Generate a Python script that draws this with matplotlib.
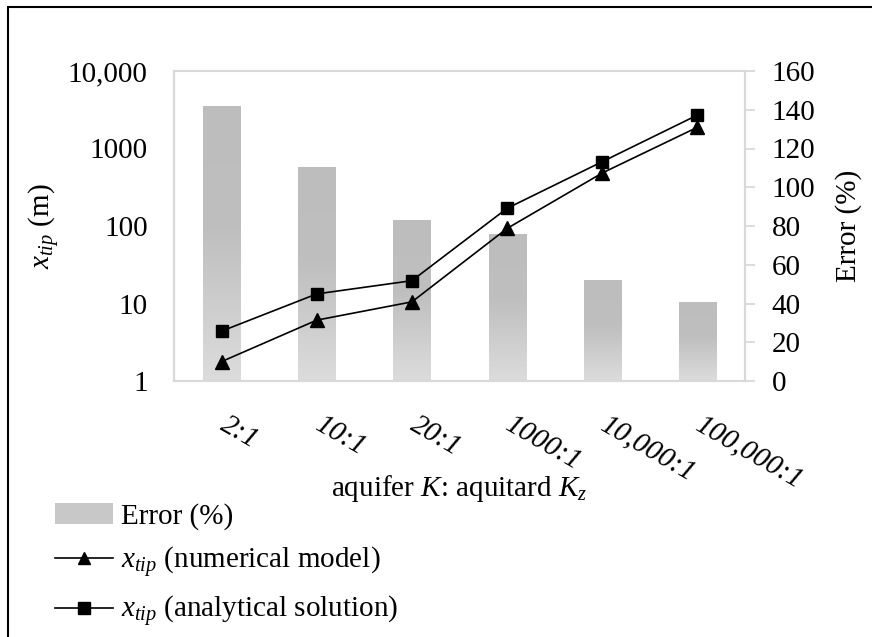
import numpy as np
import matplotlib
matplotlib.use("Agg")
import matplotlib.pyplot as plt
import matplotlib.transforms as mtransforms
from matplotlib.lines import Line2D
from matplotlib.patches import Patch, Rectangle
from matplotlib.colors import LinearSegmentedColormap

plt.rcParams['font.family'] = ['Liberation Serif', 'DejaVu Serif']
plt.rcParams['mathtext.fontset'] = 'custom'
plt.rcParams['mathtext.rm'] = 'Liberation Serif'
plt.rcParams['mathtext.it'] = 'Liberation Serif:italic'
plt.rcParams['mathtext.bf'] = 'Liberation Serif:bold'

# ---- data ----
categories = ["2:1", "10:1", "20:1", "1000:1", "10,000:1", "100,000:1"]
error_pct = [142, 110.5, 83, 76, 52, 41]
xtip_numerical = [1.78, 6.1, 10.5, 93, 483, 1880]
xtip_analytical = [4.4, 13.3, 19.7, 169, 676, 2700]
left_ticks = [1, 10, 100, 1000, 10000]
left_ticklabels = ["1", "10", "100", "1000", "10,000"]
right_ticks = [0, 20, 40, 60, 80, 100, 120, 140, 160]
grid_levels = [40, 80, 120, 160]

FS = 21
GRID = '#d9d9d9'

fig = plt.figure(figsize=(8.72, 6.37), dpi=100)
ax1 = fig.add_axes([174/872, 1-381/637, (745-174)/872, (381-71)/637])
ax2 = ax1.twinx()
ax1.set_zorder(ax2.get_zorder() + 1)
ax1.patch.set_visible(False)

x = np.arange(len(categories))

# bars with vertical gradient
cmap = LinearSegmentedColormap.from_list('g', [(0, '#dcdcdc'), (0.55, '#bfbfbf'), (1, '#bdbdbd')])
bars = ax2.bar(x, error_pct, width=0.39, color='#c8c8c8', zorder=2)
grad = np.linspace(0, 1, 256).reshape(-1, 1)
for b in bars:
    bx, bw, bh = b.get_x(), b.get_width(), b.get_height()
    im = ax2.imshow(grad, extent=[bx, bx + bw, 0, bh], origin='lower', aspect='auto',
                    cmap=cmap, vmin=0, vmax=1, zorder=2.5)
    im.set_clip_path(b)
ax2.set_xlim(-0.5, len(categories) - 0.5)
ax2.set_ylim(0, 160)
ax2.set_yticks(right_ticks)
ax2.set_yticks(grid_levels, minor=True)
ax2.yaxis.grid(True, which='minor', color=GRID, lw=1.5, zorder=0)
ax2.set_axisbelow(True)
ax2.tick_params(axis='y', which='major', length=7, width=1.3, color=GRID, labelsize=FS, pad=12)
ax2.tick_params(axis='y', which='minor', length=0)
ax2.set_ylabel("Error (%)", fontsize=FS, labelpad=14)

# lines
ax1.plot(x, xtip_numerical, color='black', lw=1.2, marker='^', ms=10, zorder=5)
ax1.plot(x, xtip_analytical, color='black', lw=1.2, marker='s', ms=9, zorder=5)
ax1.set_yscale('log')
ax1.set_ylim(1, 10000)
ax1.set_yticks(left_ticks)
ax1.set_yticklabels(left_ticklabels)
ax1.minorticks_off()
ax1.tick_params(axis='y', length=0, labelsize=FS, pad=19)
ax1.set_xlim(-0.5, len(categories) - 0.5)
ax1.set_xticks(x)
ax1.set_xticklabels(categories, rotation=-30, rotation_mode='anchor', ha='left', va='top',
                    fontsize=FS, fontstyle='italic')
ax1.tick_params(axis='x', length=0, pad=22)
offset = mtransforms.ScaledTranslation(7/100, 0, fig.dpi_scale_trans)
for lbl in ax1.get_xticklabels():
    lbl.set_transform(lbl.get_transform() + offset)
ax2.tick_params(axis='x', length=0)
ax1.set_ylabel(r"$x_{tip}$ (m)", fontsize=FS, labelpad=4)
ax1.set_xlabel(r"aquifer $K$: aquitard $K_z$", fontsize=FS)
ax1.xaxis.set_label_coords(0.5, -(488-381)/(381-71))
ax1.xaxis.label.set_va('center')

for a in (ax1, ax2):
    for s in a.spines.values():
        s.set_color(GRID)
        s.set_linewidth(1.5)
ax1.spines['top'].set_visible(False)
ax2.spines['top'].set_color(GRID)

handles = [Patch(facecolor='#c8c8c8', edgecolor='none'),
           Line2D([], [], color='black', lw=1.2, marker='^', ms=9),
           Line2D([], [], color='black', lw=1.2, marker='s', ms=8)]
labels = ["Error (%)", r"$x_{tip}$ (numerical model)", r"$x_{tip}$ (analytical solution)"]
fig.legend(handles, labels, loc='upper left', bbox_to_anchor=(55/872, 1-503/637),
           frameon=False, fontsize=FS, handlelength=2.0, handletextpad=0.25,
           labelspacing=0.5, borderpad=0, borderaxespad=0)

# outer frame (left and top edges visible)
fig.patches.append(Rectangle((8/872, -0.1), 1.2, 1-7/637 + 0.1, transform=fig.transFigure,
                             fill=False, edgecolor='black', lw=1.5, clip_on=False))

fig.savefig("out.png", dpi=100)
